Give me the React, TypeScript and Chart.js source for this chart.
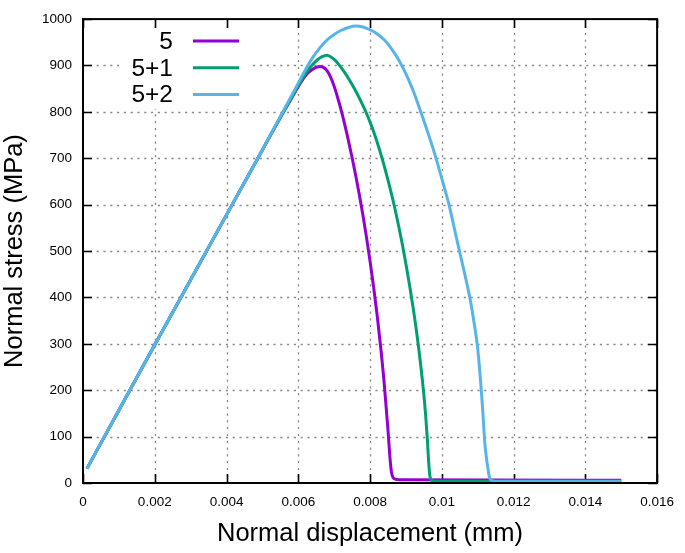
import React, { useEffect, useRef } from "react";
import { Chart, registerables } from "chart.js";

Chart.register(...registerables);

// ---- data ----
const xTicks = [0, 0.002, 0.004, 0.006, 0.008, 0.01, 0.012, 0.014, 0.016];
const yTicks = [0, 100, 200, 300, 400, 500, 600, 700, 800, 900, 1000];

const seriesLabels = ["5", "5+1", "5+2"];
const seriesColors = ["#9400d3", "#009e73", "#56b4e9"];

const x5 = [0.00011, 0.001, 0.002, 0.003, 0.004, 0.005, 0.0055, 0.0058, 0.006, 0.0061, 0.0062, 0.0063, 0.0064, 0.0065, 0.0066, 0.0067, 0.0068, 0.0069, 0.007, 0.0071, 0.0072, 0.0073, 0.0074, 0.0075, 0.0076, 0.0077, 0.0078, 0.0079, 0.008, 0.0081, 0.0082, 0.0083, 0.0084, 0.0085, 0.00856, 0.0086, 0.00866, 0.0088, 0.015];
const y5 = [31, 157, 298, 438, 578, 718, 788, 828, 855, 867, 878, 886, 892, 896, 898, 896, 889, 875, 855, 830, 802, 771, 737, 701, 663, 622, 578, 530, 478, 422, 360, 290, 210, 114, 50, 22, 10, 7, 6];

const x51 = [0.00011, 0.001, 0.002, 0.003, 0.004, 0.005, 0.0055, 0.0058, 0.006, 0.0061, 0.0062, 0.0063, 0.0064, 0.0065, 0.0066, 0.0067, 0.0068, 0.0069, 0.007, 0.0071, 0.0072, 0.0073, 0.0074, 0.0075, 0.0076, 0.0077, 0.0078, 0.0079, 0.008, 0.0081, 0.0082, 0.0083, 0.0084, 0.0085, 0.0086, 0.0087, 0.0088, 0.0089, 0.009, 0.0091, 0.0092, 0.0093, 0.0094, 0.0095, 0.00955, 0.0096, 0.00964, 0.00967, 0.0097, 0.0098, 0.015];
const y51 = [31, 157, 298, 438, 578, 718, 788, 829, 857, 870, 882, 893, 902, 910, 916, 920, 922, 919, 913, 905, 895, 884, 872, 859, 845, 830, 814, 797, 778, 757, 734, 709, 682, 653, 622, 589, 553, 514, 472, 427, 378, 324, 262, 190, 145, 90, 38, 14, 7, 4, 3];

const x52 = [0.00011, 0.001, 0.002, 0.003, 0.004, 0.005, 0.0055, 0.0058, 0.006, 0.0062, 0.0064, 0.0066, 0.0068, 0.007, 0.0072, 0.0074, 0.0076, 0.0078, 0.008, 0.0082, 0.0084, 0.0086, 0.0088, 0.009, 0.0092, 0.0094, 0.0096, 0.0098, 0.01, 0.0102, 0.0103, 0.0104, 0.0105, 0.0106, 0.0107, 0.0108, 0.0109, 0.011, 0.0111, 0.01115, 0.0112, 0.01125, 0.01128, 0.01132, 0.01137, 0.0115, 0.015];
const y52 = [31, 157, 298, 438, 578, 718, 790, 833, 862, 891, 917, 938, 955, 967, 976, 982, 985, 983, 977, 968, 955, 936, 912, 882, 846, 803, 758, 710, 656, 600, 566, 531, 497, 464, 429, 392, 345, 290, 200, 145, 85, 50, 34, 15, 6, 4, 4];

const seriesX = [x5, x51, x52];
const seriesY = [y5, y51, y52];

const FONT = "'Liberation Sans', Arial, Helvetica, sans-serif";

const framePlugin = {
  id: "gnuplotFrame",
  beforeDatasetsDraw(chart: any) {
    const { ctx, chartArea, scales } = chart;
    const { left, right, top, bottom } = chartArea;
    const xs = scales.x;
    const ys = scales.y;
    ctx.save();
    // dotted grid
    ctx.strokeStyle = "#8a8a8a";
    ctx.lineWidth = 1.3;
    ctx.setLineDash([2.2, 4.6]);
    xTicks.slice(1, -1).forEach((v) => {
      const px = Math.round(xs.getPixelForValue(v)) + 0.5;
      ctx.beginPath();
      ctx.moveTo(px, top);
      ctx.lineTo(px, bottom);
      ctx.stroke();
    });
    yTicks.slice(1, -1).forEach((v) => {
      const py = Math.round(ys.getPixelForValue(v)) + 0.5;
      ctx.beginPath();
      ctx.moveTo(left, py);
      ctx.lineTo(right, py);
      ctx.stroke();
    });
    ctx.setLineDash([]);
    // legend box background (gnuplot blanks the grid behind the key)
    ctx.fillStyle = "#ffffff";
    ctx.fillRect(left + 37, top + 9, 130, 81);
    // inward ticks on all sides
    ctx.strokeStyle = "#000";
    ctx.lineWidth = 1.6;
    const tl = 9;
    xTicks.forEach((v) => {
      const px = Math.round(xs.getPixelForValue(v)) + 0.5;
      ctx.beginPath();
      ctx.moveTo(px, bottom);
      ctx.lineTo(px, bottom - tl);
      ctx.moveTo(px, top);
      ctx.lineTo(px, top + tl);
      ctx.stroke();
    });
    yTicks.forEach((v) => {
      const py = Math.round(ys.getPixelForValue(v)) + 0.5;
      ctx.beginPath();
      ctx.moveTo(left, py);
      ctx.lineTo(left + tl, py);
      ctx.moveTo(right, py);
      ctx.lineTo(right - tl, py);
      ctx.stroke();
    });
    ctx.restore();
  },
  afterDatasetsDraw(chart: any) {
    const { ctx, chartArea } = chart;
    const { left, right, top, bottom } = chartArea;
    ctx.save();
    // border
    ctx.strokeStyle = "#000";
    ctx.lineWidth = 2;
    ctx.strokeRect(left, top, right - left, bottom - top);
    // key
    ctx.font = `24.5px ${FONT}`;
    ctx.textAlign = "right";
    ctx.textBaseline = "middle";
    ctx.lineWidth = 3;
    seriesLabels.forEach((lab, i) => {
      const cy = top + 22 + i * 26.7;
      ctx.fillStyle = "#000";
      ctx.fillText(lab, left + 90, cy + 1);
      ctx.strokeStyle = seriesColors[i];
      ctx.beginPath();
      ctx.moveTo(left + 110, cy);
      ctx.lineTo(left + 156, cy);
      ctx.stroke();
    });
    ctx.restore();
  },
};

function fmt(v: number) {
  return String(Number(v.toFixed(4)));
}

export default function App() {
  const ref = useRef<HTMLCanvasElement | null>(null);
  useEffect(() => {
    if (!ref.current) return;
    const datasets = seriesLabels.map((lab, i) => ({
      label: lab,
      data: seriesX[i].map((x, j) => ({ x, y: seriesY[i][j] })),
      borderColor: seriesColors[i],
      backgroundColor: seriesColors[i],
      borderWidth: 3,
      pointRadius: 0,
      fill: false,
      cubicInterpolationMode: "monotone" as const,
      order: 2 - i,
    }));
    const chart = new Chart(ref.current, {
      type: "line",
      data: { datasets },
      options: {
        responsive: false,
        animation: false,
        devicePixelRatio: 1,
        layout: { padding: { top: 8, right: 20, left: 0, bottom: 0 } },
        plugins: { legend: { display: false }, tooltip: { enabled: false } },
        scales: {
          x: {
            type: "linear",
            min: 0,
            max: 0.016,
            afterBuildTicks: (s: any) => {
              s.ticks = xTicks.map((v) => ({ value: v }));
            },
            afterFit: (s: any) => {
              s.height = 70;
            },
            grid: { display: false, drawTicks: false },
            border: { display: false },
            ticks: {
              color: "#000",
              font: { family: FONT, size: 13.5 },
              padding: 11,
              maxRotation: 0,
              autoSkip: false,
              callback: (v: any) => fmt(Number(v)),
            },
            title: {
              display: true,
              text: "Normal displacement (mm)",
              color: "#000",
              font: { family: FONT, size: 25.5 },
              padding: { top: 0, bottom: 4 },
            },
          },
          y: {
            type: "linear",
            min: 0,
            max: 1000,
            afterBuildTicks: (s: any) => {
              s.ticks = yTicks.map((v) => ({ value: v }));
            },
            afterFit: (s: any) => {
              s.width = 83;
            },
            grid: { display: false, drawTicks: false },
            border: { display: false },
            ticks: {
              color: "#000",
              font: { family: FONT, size: 13.5 },
              padding: 11,
              autoSkip: false,
              callback: (v: any) => String(v),
            },
            title: {
              display: true,
              text: "Normal stress (MPa)",
              color: "#000",
              font: { family: FONT, size: 25.5 },
              padding: { top: 0, bottom: 0 },
            },
          },
        },
      },
      plugins: [framePlugin],
    });
    return () => chart.destroy();
  }, []);
  return (
    <div style={{ position: "absolute", left: 0, top: 0, width: 685, height: 553, background: "#fff" }}>
      <canvas ref={ref} width={685} height={553} style={{ width: 685, height: 553, display: "block" }} />
    </div>
  );
}
